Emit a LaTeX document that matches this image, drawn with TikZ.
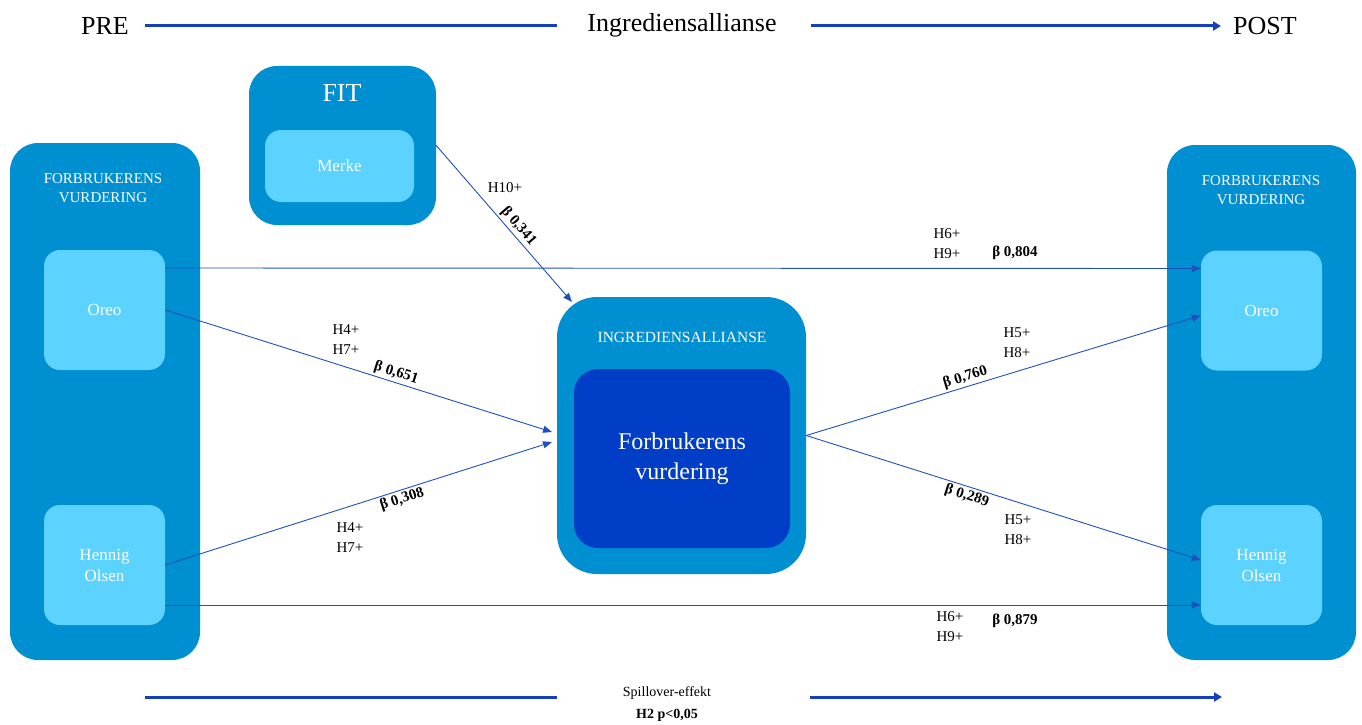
\documentclass[tikz,border=0pt]{standalone}
\usepackage{fontspec}
\setmainfont{Liberation Serif}
\usetikzlibrary{arrows.meta}
\definecolor{outerblue}{RGB}{0,143,209}
\definecolor{lightblue}{RGB}{92,210,255}
\definecolor{darkblue}{RGB}{0,62,200}
\definecolor{linkblue}{RGB}{30,80,190}
\definecolor{barblue}{RGB}{20,65,185}
\tikzset{
  outerbox/.style={fill=outerblue, rounded corners=28pt},
  innerbox/.style={fill=lightblue, rounded corners=16pt, minimum width=121pt, minimum height=120pt,
    text=white, align=center, font=\fontsize{17}{21}\selectfont},
  boxtitle/.style={text=white, align=center, font=\fontsize{15}{19}\selectfont},
  link/.style={draw=linkblue, line width=0.9pt, -{Triangle[length=9pt,width=7pt]}},
  bar/.style={draw=barblue, line width=3pt},
  hyp/.style={font=\fontsize{15}{20}\selectfont, align=left, inner sep=0pt},
  beta/.style={font=\bfseries\fontsize{15}{18}\selectfont, inner sep=2pt},
  header/.style={inner sep=0pt, font=\fontsize{26}{30}\selectfont},
}
\begin{document}
\begin{tikzpicture}[x=1pt,y=-1pt]
  \useasboundingbox (0,0) rectangle (1362,725);
  % header
  \node[header] (preLbl) at (105,26) {PRE};
  \node[header] (ingLbl) at (682,25) {Ingrediensallianse};
  \node[header] (postLbl) at (1265,26) {POST};
  \draw[bar, shorten <=16pt, shorten >=30pt] (preLbl.east) -- (preLbl.east -| ingLbl.west);
  \draw[bar, -{Triangle[length=8pt,width=9pt]}, shorten <=34pt, shorten >=12pt]
    (preLbl.east -| ingLbl.east) -- (preLbl.east -| postLbl.west);

  % boxes
  \node[outerbox, minimum width=190pt, minimum height=517pt] (preBox) at (105,401.5) {};
  \node[outerbox, minimum width=189pt, minimum height=515pt] (postBox) at (1261.5,402.5) {};
  \node[outerbox, minimum width=187pt, minimum height=159pt] (fitBox) at (342.5,145.5) {};
  \node[outerbox, rounded corners=40pt, minimum width=249pt, minimum height=277pt] (ingBox) at (681.5,435.5) {};
  \node[fill=darkblue, rounded corners=24pt, minimum width=216pt, minimum height=179pt, text=white,
    align=center, font=\fontsize{24}{30}\selectfont] (evalBox) at (682,458.5) {Forbrukerens\\vurdering};

  \node[boxtitle] (preTitle) at (103,188) {FORBRUKERENS\\VURDERING};
  \node[boxtitle] (postTitle) at (1261,190) {FORBRUKERENS\\VURDERING};
  \node[boxtitle, font=\fontsize{15.5}{19}\selectfont] (ingTitle) at (682,337) {INGREDIENSALLIANSE};
  \node[text=white, font=\fontsize{26}{30}\selectfont] (fitTitle) at (342,93) {FIT};

  \node[innerbox] (oreoPre) at (104.5,310) {Oreo};
  \node[innerbox] (olsenPre) at (104.5,565) {Hennig\\Olsen};
  \node[innerbox] (oreoPost) at (1261.5,310.5) {Oreo};
  \node[innerbox] (olsenPost) at (1261.5,565) {Hennig\\Olsen};
  \node[innerbox, minimum width=149pt, minimum height=72pt] (merkeBox) at (339.5,166) {Merke};

  % paths
  \coordinate (fitEnd) at (572,302);
  \coordinate (ingInA) at (552,432);
  \coordinate (ingInB) at (552,442);
  \draw[link] (fitBox.east) -- node[beta, sloped, above, pos=0.555] (b341) {β 0,341} (fitEnd);
  \draw[link] (oreoPre.east) -- node[beta, sloped, above, pos=0.59] (b651) {β 0,651} (ingInA);
  \draw[link] (olsenPre.east) -- node[beta, sloped, below, pos=0.605] (b308) {β 0,308} (ingInB);
  \draw[link] (ingBox.east) -- node[beta, sloped, above, pos=0.41] (b760) {β 0,760} ([yshift=-5pt]oreoPost.west);
  \draw[link] (ingBox.east) -- node[beta, sloped, below, pos=0.414] (b289) {β 0,289} ([yshift=5pt]olsenPost.west);
  \draw[link] ([yshift=42pt]oreoPre.east) -- ([yshift=42pt]oreoPost.west);
  \draw[link] ([yshift=-40pt]olsenPre.east) -- ([yshift=-40pt]olsenPost.west);

  % labels
  \node[hyp] (h10) at (505,188) {H10+};
  \node[hyp] (h47a) at (346,340) {H4+\\H7+};
  \node[hyp] (h47b) at (350,538) {H4+\\H7+};
  \node[hyp] (h69a) at (947,244) {H6+\\H9+};
  \node[hyp] (h58a) at (1017,343) {H5+\\H8+};
  \node[hyp] (h58b) at (1018,530) {H5+\\H8+};
  \node[hyp] (h69b) at (950,627) {H6+\\H9+};
  \node[beta] (b804) at (1015,253) {β 0,804};
  \node[beta] (b879) at (1015,621) {β 0,879};

  % spillover
  \node[align=center, font=\fontsize{14}{22}\selectfont] (spillLbl) at (667,704) {Spillover-effekt\\\textbf{H2 p<0,05}};
  \coordinate (spillA) at (145,697);
  \coordinate (spillB) at (557,697);
  \coordinate (spillC) at (810,697);
  \coordinate (spillD) at (1222,697);
  \draw[bar] (spillA) -- (spillB);
  \draw[bar, -{Triangle[length=8pt,width=9pt]}] (spillC) -- (spillD);
\end{tikzpicture}
\end{document}
